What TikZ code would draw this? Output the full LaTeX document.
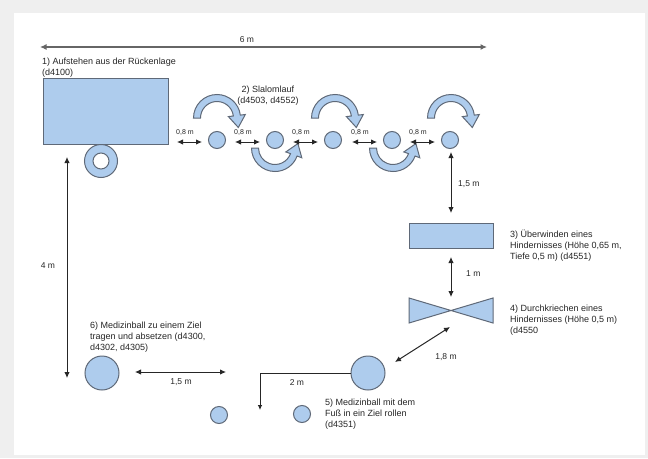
\documentclass[tikz,border=0pt]{standalone}
\usepackage{fontspec}
\setmainfont{Liberation Sans}
\usetikzlibrary{arrows.meta,calc}
\definecolor{bfill}{RGB}{174,204,237}
\definecolor{bdraw}{RGB}{95,105,120}
\definecolor{framegray}{RGB}{239,239,239}
\newcommand\upperarc[2]{%
  \path[shp] ($(#1,#2)+(180:23.5)$) arc[start angle=180,end angle=353,radius=23.5]
     -- ($(#1,#2)+(353:28.5)$) -- ($(#1,#2)+(353:20)+(83:12)$) -- ($(#1,#2)+(353:11.5)$)
     -- ($(#1,#2)+(353:16.5)$) arc[start angle=353,end angle=180,radius=16.5] -- cycle;}
\newcommand\lowerarc[2]{%
  \path[shp] ($(#1,#2)+(180:23.5)$) arc[start angle=180,end angle=20,radius=23.5]
     -- ($(#1,#2)+(20:28.5)$) -- ($(#1,#2)+(20:20)+(-70:12)$) -- ($(#1,#2)+(20:11.5)$)
     -- ($(#1,#2)+(20:16.5)$) arc[start angle=20,end angle=180,radius=16.5] -- cycle;}
\begin{document}
\begin{tikzpicture}[x=1pt,y=-1pt,
  shp/.style={fill=bfill,draw=bdraw,line width=1pt},
  ball/.style={circle,shp,inner sep=0pt,minimum size=#1},
  dim/.style={{Latex[length=6pt,width=5.5pt]}-{Latex[length=6pt,width=5.5pt]},line width=1pt,black!85},
  lbl/.style={font=\fontsize{8.5}{10}\selectfont,inner sep=0pt,text=black!85},
  small/.style={font=\fontsize{7}{8}\selectfont,inner sep=0pt,text=black!85},
  txt/.style={font=\fontsize{9}{11}\selectfont,align=left,inner sep=0pt,anchor=north west,text=black!85},
]
\fill[framegray] (0,0) rectangle (648,458);
\fill[white] (14,13) rectangle (645,455);
\useasboundingbox (0,0) rectangle (648,458);

% 1) mat and wheel
\node[shp,inner sep=0pt,minimum width=125pt,minimum height=66pt,anchor=north west] (mat) at (43,78) {};
\node[circle,shp,inner sep=0pt,minimum size=33pt] (wheel) at (101,161) {};
\node[circle,draw=bdraw,fill=white,line width=1pt,inner sep=0pt,minimum size=16pt] (hub) at (wheel) {};

% 2) slalom
\foreach \i/\x in {1/217,2/275,3/333,4/392,5/450}
  \node[ball=17pt] (s\i) at (\x,140) {};
\upperarc{217}{118}
\upperarc{335}{118}
\upperarc{451}{118}
\lowerarc{275}{148}
\lowerarc{393}{148}

% 3) hurdle, 4) tunnel
\node[shp,inner sep=0pt,minimum width=84pt,minimum height=25pt,anchor=north west] (hurdle) at (409,223) {};
\coordinate (tunnel) at (451,310.5);
\path[shp] (409,298) -- (tunnel) -- (493,298) -- (493,323) -- (tunnel) -- (409,323) -- cycle;

% 5) and 6) balls
\node[ball=34pt] (b5) at (368,373) {};
\node[ball=34pt] (b6) at (102,373) {};
\node[ball=17pt] (g1) at (219,415) {};
\node[ball=17pt] (g2) at (302,414) {};
\coordinate (goal) at (260,410);
\draw[line width=0.8pt,black!85,-{Latex[length=5pt,width=4.5pt]}] (b5.west) -| (goal);

% dimension lines
\coordinate (w1) at (40,47); \coordinate (w2) at (487,47);
\draw[{Latex[length=6.5pt,width=6pt]}-{Latex[length=6.5pt,width=6pt]},line width=1.5pt,black!60] (w1) -- (w2);
\node[lbl] (l6m) at (247,40) {6 m};

\foreach \i/\a in {1/177,2/235,3/293,4/352,5/410}{
  \coordinate (da\i) at (\a,142);
  \coordinate (db\i) at (\a+25,142);
  \draw[dim] (da\i) -- (db\i);
  \node[small,anchor=west] (l08\i) at (\a-1,133) {0,8 m};
}

\coordinate (v1) at (451,152); \coordinate (v2) at (451,213);
\draw[dim] (v1) -- (v2);
\node[lbl,anchor=west] (l15a) at (458,184) {1,5 m};

\coordinate (u1) at (451,257); \coordinate (u2) at (451,297);
\draw[dim] (u1) -- (u2);
\node[lbl,anchor=west] (l1m) at (466,274) {1 m};

\coordinate (d1) at (395,362); \coordinate (d2) at (450,327);
\draw[dim] (d1) -- (d2);
\node[lbl] (l18) at (446,357) {1,8 m};

\coordinate (h1) at (67,157); \coordinate (h2) at (67,378);
\draw[dim] (h1) -- (h2);
\node[lbl] (l4m) at (48,266) {4 m};

\coordinate (k1) at (135,372); \coordinate (k2) at (226,372);
\draw[dim] (k1) -- (k2);
\node[lbl] (l15b) at (181,382) {1,5 m};

\node[lbl] (l2m) at (297,383) {2 m};

% texts
\node[txt] (t1) at (42,58) {1) Aufstehen aus der Rückenlage\\(d4100)};
\node[txt,align=center,anchor=north] (t2) at (268,86) {2) Slalomlauf\\(d4503, d4552)};
\node[txt] (t3) at (510,229.5) {3) Überwinden eines\\Hindernisses (Höhe 0,65 m,\\Tiefe 0,5 m) (d4551)};
\node[txt] (t4) at (510,304.5) {4) Durchkriechen eines\\Hindernisses (Höhe 0,5 m)\\(d4550};
\node[txt] (t5) at (325,398.5) {5) Medizinball mit dem\\Fuß in ein Ziel rollen\\(d4351)};
\node[txt] (t6) at (90,321.5) {6) Medizinball zu einem Ziel\\tragen und absetzen (d4300,\\d4302, d4305)};
\end{tikzpicture}
\end{document}
